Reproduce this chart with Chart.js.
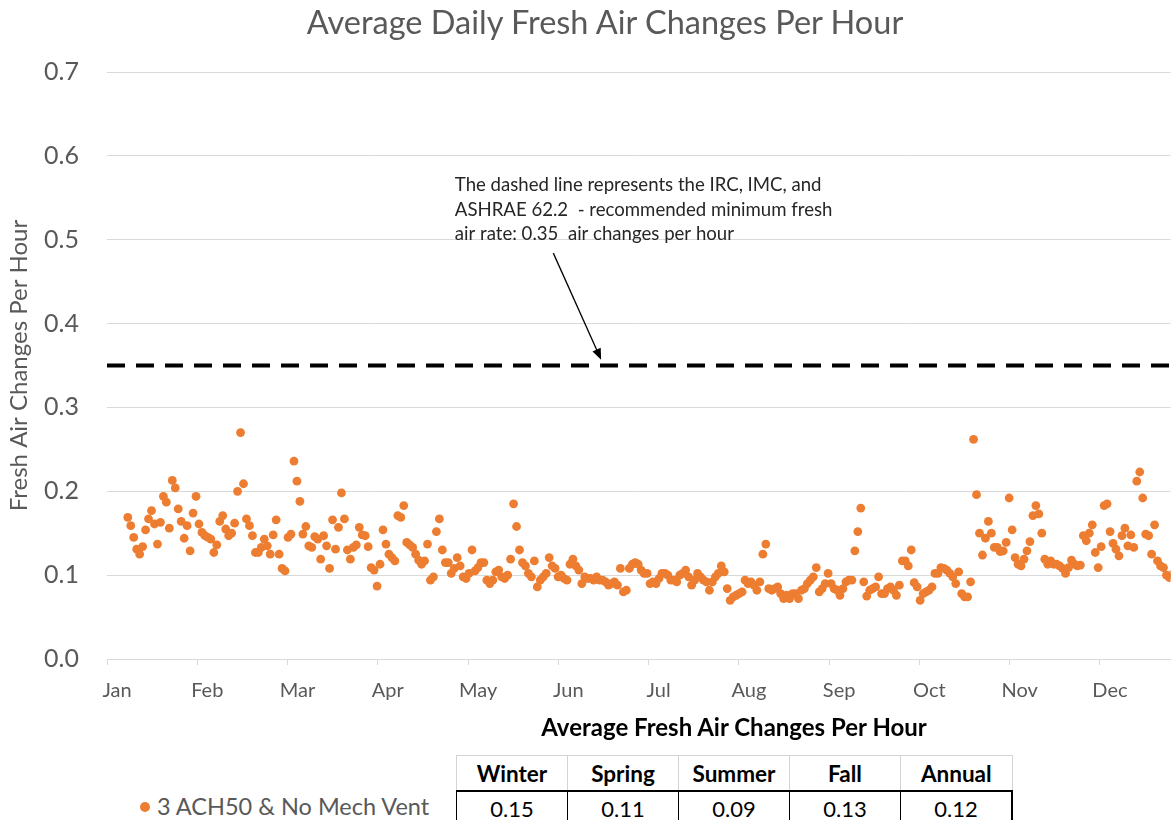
<!DOCTYPE html>
<html>
<head>
<meta charset="utf-8">
<script src="https://cdn.jsdelivr.net/npm/chart.js@4.4.1/dist/chart.umd.min.js"></script>
<style>
  body { margin: 0; background: #fff; font-family: Lato, 'Open Sans', sans-serif; }
  #page { position: relative; width: 1175px; height: 820px; overflow: hidden; }
  #chart-box { position: absolute; left: 0; top: 0; width: 1175px; height: 712px; }
  #title { position: absolute; top: 2px; left: 605px; transform: translateX(-50%); white-space: nowrap;
           font-size: 32.5px; line-height: 40px; color: #595959; }
  #table-title { position: absolute; top: 711px; left: 734px; transform: translateX(-50%); white-space: nowrap;
                 font-size: 24px; line-height: 32px; font-weight: bold; color: #000; }
  #season-table { position: absolute; left: 456px; top: 755px; border-collapse: collapse; }
  #season-table th, #season-table td { width: 110px; text-align: center; color: #000; padding: 0; }
  #season-table th { height: 34px; font-size: 22.5px; font-weight: bold; border: 1px solid #d4d4d4; border-bottom: 2px solid #000; }
  #season-table td { height: 32px; font-size: 22px; border: 1px solid #000; border-top: none; }
  #season-table td:last-child { border-right: 2px solid #000; }
  #legend { position: absolute; left: 140px; top: 790px; font-size: 23.5px; line-height: 32px; color: #595959; white-space: nowrap; }
  #legend .dot { display: inline-block; width: 10px; height: 10px; border-radius: 50%; background: #ED7D31;
                 margin-right: 7px; vertical-align: 3px; }
</style>
</head>
<body>
<div id="page">
  <div id="chart-box"><canvas id="achChart"></canvas></div>
  <div id="title">Average Daily Fresh Air Changes Per Hour</div>
  <div id="table-title">Average Fresh Air Changes Per Hour</div>
  <table id="season-table"><thead><tr id="season-head"></tr></thead><tbody><tr id="season-vals"></tr></tbody></table>
  <div id="legend"><span class="dot"></span>3 ACH50 &amp; No Mech Vent</div>
</div>
<script>
// ---------- Data ----------
const MONTHS = ['Jan', 'Feb', 'Mar', 'Apr', 'May', 'Jun', 'Jul', 'Aug', 'Sep', 'Oct', 'Nov', 'Dec'];
const MONTH_LEN = 365 / 12;
const FIRST_DAY = 7;          // day index of the first simulated value
const LAST_VISIBLE_DAY = 358.4;

// average daily fresh air changes per hour, one value per day from FIRST_DAY
const ach = [
  // Jan - early Mar
  0.169, 0.159, 0.145, 0.131, 0.125, 0.134, 0.154, 0.167, 0.177, 0.161,
  0.137, 0.163, 0.194, 0.187, 0.156, 0.213, 0.204, 0.179, 0.164, 0.144,
  0.159, 0.129, 0.174, 0.194, 0.161, 0.151, 0.147, 0.145, 0.143, 0.127,
  0.136, 0.164, 0.171, 0.155, 0.147, 0.150, 0.162, 0.200, 0.270, 0.209,
  0.167, 0.159, 0.147, 0.127, 0.127, 0.133, 0.143, 0.135, 0.125, 0.148,
  0.166, 0.125, 0.108, 0.105, 0.145, 0.149, 0.236, 0.212, 0.188,
  // Mar - early May
  0.149, 0.158, 0.135, 0.133, 0.146, 0.143, 0.119, 0.147, 0.135, 0.108,
  0.166, 0.131, 0.157, 0.198, 0.167, 0.130, 0.119, 0.133, 0.136, 0.157,
  0.148, 0.147, 0.134, 0.109, 0.106, 0.087, 0.113, 0.154, 0.137, 0.125,
  0.121, 0.117, 0.171, 0.169, 0.183, 0.139, 0.136, 0.133, 0.125, 0.118,
  0.113, 0.117, 0.137, 0.094, 0.098, 0.152, 0.167, 0.130, 0.115, 0.115,
  0.102, 0.108, 0.121, 0.111, 0.098, 0.096, 0.102, 0.130, 0.105, 0.109,
  0.115, 0.115,
  // May - early Jul
  0.094, 0.090, 0.094, 0.104, 0.106, 0.098, 0.096, 0.100, 0.119, 0.185,
  0.158, 0.130, 0.115, 0.111, 0.102, 0.098, 0.117, 0.086, 0.094, 0.098,
  0.102, 0.121, 0.111, 0.108, 0.098, 0.100, 0.096, 0.094, 0.113, 0.119,
  0.111, 0.106, 0.090, 0.098, 0.096, 0.096, 0.094, 0.098, 0.094, 0.094,
  0.092, 0.088, 0.090, 0.092, 0.088, 0.108, 0.080, 0.082, 0.108, 0.113,
  0.115, 0.113, 0.106, 0.102, 0.102, 0.090, 0.092, 0.090, 0.096, 0.102,
  0.102, 0.100, 0.094, 0.094,
  // Jul - mid Sep
  0.092, 0.100, 0.102, 0.106, 0.098, 0.088, 0.094, 0.102, 0.098, 0.094,
  0.092, 0.082, 0.092, 0.098, 0.102, 0.111, 0.104, 0.084, 0.070, 0.074,
  0.076, 0.078, 0.080, 0.094, 0.090, 0.092, 0.088, 0.082, 0.092, 0.125,
  0.137, 0.084, 0.082, 0.084, 0.086, 0.078, 0.072, 0.076, 0.072, 0.078,
  0.078, 0.072, 0.082, 0.084, 0.090, 0.094, 0.098, 0.109, 0.080, 0.084,
  0.090, 0.102, 0.090, 0.084, 0.082, 0.076, 0.084, 0.092, 0.094, 0.094,
  0.129, 0.152, 0.180, 0.092, 0.075,
  // mid Sep - mid Nov
  0.082, 0.084, 0.086, 0.098, 0.078, 0.078, 0.084, 0.086, 0.082, 0.076,
  0.088, 0.117, 0.117, 0.111, 0.130, 0.091, 0.086, 0.070, 0.078, 0.080,
  0.082, 0.086, 0.102, 0.102, 0.109, 0.108, 0.106, 0.102, 0.098, 0.090,
  0.104, 0.078, 0.074, 0.074, 0.092, 0.262, 0.196, 0.150, 0.124, 0.144,
  0.164, 0.150, 0.133, 0.133, 0.128, 0.129, 0.139, 0.192, 0.154, 0.121,
  0.113, 0.111, 0.119, 0.129, 0.140, 0.171, 0.183, 0.173, 0.150,
  // mid Nov - Dec
  0.119, 0.113, 0.117, 0.113, 0.113, 0.111, 0.108, 0.102, 0.109, 0.118,
  0.113, 0.111, 0.112, 0.147, 0.141, 0.150, 0.160, 0.127, 0.109, 0.134,
  0.183, 0.185, 0.152, 0.138, 0.131, 0.123, 0.147, 0.156, 0.135, 0.148,
  0.133, 0.212, 0.223, 0.192, 0.149, 0.147, 0.125, 0.160, 0.117, 0.111,
  0.109, 0.100, 0.097, 0.101,
];

const MIN_FRESH_AIR = 0.35;   // IRC / IMC / ASHRAE 62.2 minimum

const SEASONS = ['Winter', 'Spring', 'Summer', 'Fall', 'Annual'];
const SEASON_AVG = [0.15, 0.11, 0.09, 0.13, 0.12];

const NOTE_LINES = [
  'The dashed line represents the IRC, IMC, and',
  'ASHRAE 62.2  - recommended minimum fresh',
  'air rate: 0.35  air changes per hour',
];

// ---------- Table ----------
document.getElementById('season-head').innerHTML = SEASONS.map((s) => `<th>${s}</th>`).join('');
document.getElementById('season-vals').innerHTML = SEASON_AVG.map((v) => `<td>${v.toFixed(2)}</td>`).join('');

// ---------- Chart ----------
const GRAY = '#595959';
const GRID = '#d9d9d9';
const ORANGE = '#ED7D31';

// callout text with an arrow pointing down at the dashed line
const notePlugin = {
  id: 'note',
  afterDatasetsDraw(chart) {
    const { ctx, scales: { x, y } } = chart;
    ctx.save();
    ctx.fillStyle = '#262626';
    ctx.font = '18.6px Lato, sans-serif';
    ctx.textBaseline = 'middle';
    const tx = x.getPixelForValue(117.2);
    const ty = y.getPixelForValue(0.565);
    NOTE_LINES.forEach((line, i) => ctx.fillText(line, tx, ty + i * 24.5));

    const x0 = x.getPixelForValue(150.4), y0 = y.getPixelForValue(0.484);
    const x1 = x.getPixelForValue(166.5), y1 = y.getPixelForValue(0.357);
    const ang = Math.atan2(y1 - y0, x1 - x0);
    ctx.strokeStyle = '#000';
    ctx.lineWidth = 1.3;
    ctx.beginPath();
    ctx.moveTo(x0, y0);
    ctx.lineTo(x1 - 9 * Math.cos(ang), y1 - 9 * Math.sin(ang));
    ctx.stroke();
    ctx.fillStyle = '#000';
    ctx.beginPath();
    ctx.moveTo(x1, y1);
    ctx.lineTo(x1 - 11 * Math.cos(ang) + 4.5 * Math.sin(ang), y1 - 11 * Math.sin(ang) - 4.5 * Math.cos(ang));
    ctx.lineTo(x1 - 11 * Math.cos(ang) - 4.5 * Math.sin(ang), y1 - 11 * Math.sin(ang) + 4.5 * Math.cos(ang));
    ctx.closePath();
    ctx.fill();
    ctx.restore();
  },
};

new Chart(document.getElementById('achChart'), {
  type: 'scatter',
  data: {
    datasets: [
      {
        type: 'line',
        label: 'Recommended minimum',
        data: [{ x: 0, y: MIN_FRESH_AIR }, { x: LAST_VISIBLE_DAY + 5, y: MIN_FRESH_AIR }],
        borderColor: '#000', borderWidth: 4, borderDash: [18, 11],
        pointRadius: 0, fill: false,
      },
      {
        label: '3 ACH50 & No Mech Vent',
        data: ach.map((v, i) => ({ x: FIRST_DAY + i, y: v })),
        backgroundColor: ORANGE, borderWidth: 0,
        pointRadius: 4.4, pointHoverRadius: 4.4,
      },
    ],
  },
  options: {
    responsive: true, maintainAspectRatio: false, animation: false,
    layout: { padding: { top: 72, right: 0, left: 0, bottom: 0 } },
    plugins: { legend: { display: false }, tooltip: { enabled: false } },
    scales: {
      x: {
        type: 'linear', min: 0, max: LAST_VISIBLE_DAY,
        afterBuildTicks: (s) => { s.ticks = MONTHS.map((m, i) => ({ value: i * MONTH_LEN })); },
        afterFit: (s) => { s.height = 53; },
        ticks: {
          callback: (v, i) => MONTHS[i], color: GRAY, font: { family: 'Lato', size: 20 },
          padding: 14, labelOffset: 10, maxRotation: 0, autoSkip: false,
        },
        grid: { drawOnChartArea: false, drawTicks: true, tickLength: 6, color: GRID },
        border: { display: true, color: GRID },
      },
      y: {
        min: 0, max: 0.7,
        afterFit: (s) => { s.width = 107; },
        ticks: { stepSize: 0.1, callback: (v) => v.toFixed(1), color: GRAY, font: { family: 'Lato', size: 25 }, padding: 28 },
        grid: { color: GRID, drawTicks: false },
        border: { display: false },
        title: {
          display: true, text: 'Fresh Air Changes Per Hour', color: GRAY,
          font: { family: 'Lato', size: 24 }, padding: { top: 5 },
        },
      },
    },
  },
  plugins: [notePlugin],
});
</script>
</body>
</html>
